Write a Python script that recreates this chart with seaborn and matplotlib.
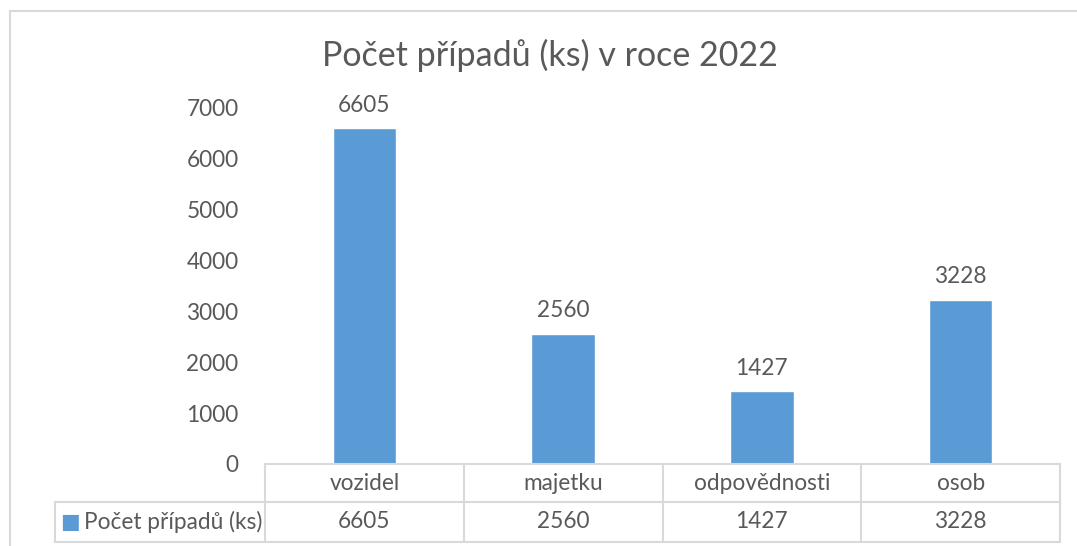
import matplotlib
matplotlib.use("Agg")
import matplotlib.pyplot as plt
import matplotlib.transforms as mtransforms
from matplotlib.lines import Line2D
import seaborn as sns
import pandas as pd

# data
categories = ["vozidel", "majetku", "odpovědnosti", "osob"]
counts = [6605, 2560, 1427, 3228]
series_name = "Počet případů (ks)"
title = "Počet případů (ks) v roce 2022"
yticks = [0, 1000, 2000, 3000, 4000, 5000, 6000, 7000]

df = pd.DataFrame({"kategorie": categories, "pocet": counts})

sns.set_style("white")
plt.rcParams["font.family"] = ["Lato", "DejaVu Sans"]

BLUE = "#5B9BD5"
GREY = "#595959"
LINE = "#D9D9D9"
FS = 16.3

W, H = 1077, 546
fig = plt.figure(figsize=(W / 100, H / 100), dpi=100)
ax = fig.add_axes([265 / W, 1 - 464 / H, (1060 - 265) / W, (464 - 108) / H])

sns.barplot(data=df, x="kategorie", y="pocet", color=BLUE, width=0.32,
            saturation=1, ax=ax)
ax.set_ylim(0, 7000)
ax.set_xlim(-0.5, len(categories) - 0.5)
ax.set_yticks(yticks)
ax.set_yticklabels([str(t) for t in yticks], fontsize=FS, color=GREY)
ax.tick_params(axis="y", length=0, pad=19)
ax.set_xticks([])
ax.set_xlabel("")
ax.set_ylabel("")
for s in ax.spines.values():
    s.set_visible(False)

for i, v in enumerate(counts):
    ax.annotate(str(v), (i, v), xytext=(0, 9), textcoords="offset points",
                ha="center", va="bottom", fontsize=FS, color=GREY)

fig.text(550 / W, 1 - 55 / H, title, ha="center", va="center",
         fontsize=24.5, color=GREY)

# data table under the plot
tr = mtransforms.blended_transform_factory(ax.transData, ax.transAxes)
ah = 464 - 108
y_mid = -38 / ah
y_bot = -78 / ah
x_lab = (55 - 265) / (1060 - 265)
n = len(categories)
kw = dict(color=LINE, lw=1.5, clip_on=False)
ax.plot([-0.5, n - 0.5], [0, 0], transform=tr, **kw)
ax.plot([x_lab, 1], [y_mid, y_mid], transform=ax.transAxes, **kw)
ax.plot([x_lab, 1], [y_bot, y_bot], transform=ax.transAxes, **kw)
ax.plot([x_lab, x_lab], [y_mid, y_bot], transform=ax.transAxes, **kw)
for k in range(n + 1):
    ax.plot([k - 0.5, k - 0.5], [0, y_bot], transform=tr, **kw)
for i, (c, v) in enumerate(zip(categories, counts)):
    ax.text(i, y_mid / 2, c, transform=tr, ha="center", va="center",
            fontsize=FS, color=GREY)
    ax.text(i, (y_mid + y_bot) / 2, str(v), transform=tr, ha="center",
            va="center", fontsize=FS, color=GREY)
ax.text(x_lab + 0.007, (y_mid + y_bot) / 2, "■", transform=ax.transAxes,
        ha="left", va="center", fontsize=15, color=BLUE,
        family=["DejaVu Sans"])
ax.text(x_lab + 0.036, (y_mid + y_bot) / 2, series_name,
        transform=ax.transAxes, ha="left", va="center", fontsize=FS,
        color=GREY)

# chart border
fig.add_artist(Line2D([9.5 / W, 9.5 / W], [0, 1 - 11 / H], color=LINE, lw=1.5))
fig.add_artist(Line2D([9.5 / W, 1], [1 - 11 / H, 1 - 11 / H], color=LINE, lw=1.5))

fig.savefig("out.png", dpi=100)
